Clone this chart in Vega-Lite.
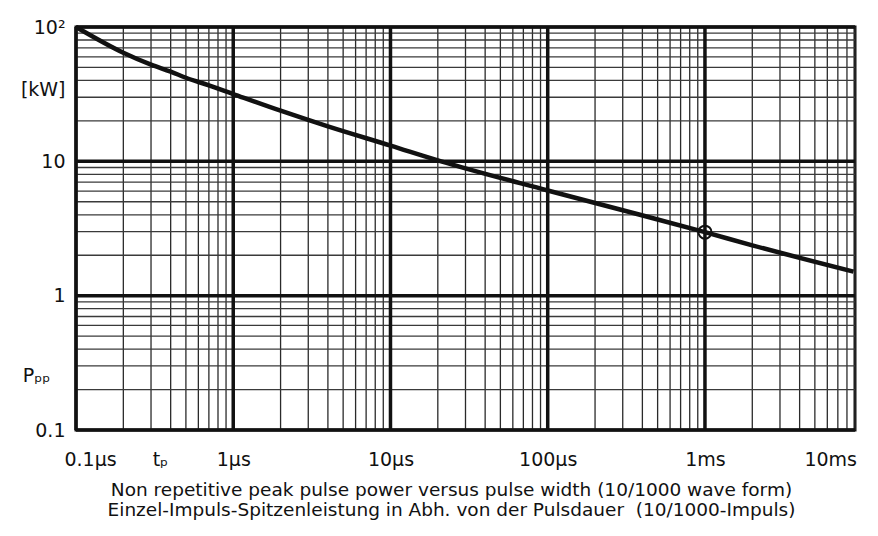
{
  "$schema": "https://vega.github.io/schema/vega-lite/v6.json",
  "width": 779,
  "height": 403,
  "autosize": "none",
  "padding": {"left": 76, "top": 27, "right": 23, "bottom": 106},
  "background": "white",
  "config": {"font": "DejaVu Sans", "view": {"stroke": "#111111", "strokeWidth": 3}},
  "datasets": {
    "curve": [
      {"t": 1e-7, "p": 100},
      {"t": 2e-7, "p": 64.3},
      {"t": 3e-7, "p": 52.4},
      {"t": 4e-7, "p": 46.5},
      {"t": 5e-7, "p": 41.9},
      {"t": 7e-7, "p": 36.8},
      {"t": 1e-6, "p": 31.7},
      {"t": 2e-6, "p": 23.8},
      {"t": 4e-6, "p": 18.2},
      {"t": 1e-5, "p": 13.1},
      {"t": 2.1e-5, "p": 10},
      {"t": 1e-4, "p": 6.07},
      {"t": 3.86e-4, "p": 4.0},
      {"t": 1e-3, "p": 2.97},
      {"t": 2e-3, "p": 2.37},
      {"t": 8.8e-3, "p": 1.51}
    ],
    "marker": [{"t": 1e-3, "p": 2.97}],
    "xgrid": [
      {"t": 1e-7, "major": true}, {"t": 2e-7, "major": false}, {"t": 3e-7, "major": false}, {"t": 4e-7, "major": false}, {"t": 5e-7, "major": false}, {"t": 6e-7, "major": false}, {"t": 7e-7, "major": false}, {"t": 8e-7, "major": false}, {"t": 9e-7, "major": false},
      {"t": 1e-6, "major": true}, {"t": 2e-6, "major": false}, {"t": 3e-6, "major": false}, {"t": 4e-6, "major": false}, {"t": 5e-6, "major": false}, {"t": 6e-6, "major": false}, {"t": 7e-6, "major": false}, {"t": 8e-6, "major": false}, {"t": 9e-6, "major": false},
      {"t": 1e-5, "major": true}, {"t": 2e-5, "major": false}, {"t": 3e-5, "major": false}, {"t": 4e-5, "major": false}, {"t": 5e-5, "major": false}, {"t": 6e-5, "major": false}, {"t": 7e-5, "major": false}, {"t": 8e-5, "major": false}, {"t": 9e-5, "major": false},
      {"t": 1e-4, "major": true}, {"t": 2e-4, "major": false}, {"t": 3e-4, "major": false}, {"t": 4e-4, "major": false}, {"t": 5e-4, "major": false}, {"t": 6e-4, "major": false}, {"t": 7e-4, "major": false}, {"t": 8e-4, "major": false}, {"t": 9e-4, "major": false},
      {"t": 1e-3, "major": true}, {"t": 2e-3, "major": false}, {"t": 3e-3, "major": false}, {"t": 4e-3, "major": false}, {"t": 5e-3, "major": false}, {"t": 6e-3, "major": false}, {"t": 7e-3, "major": false}, {"t": 8e-3, "major": false}, {"t": 9e-3, "major": false}
    ],
    "ygrid": [
      {"p": 0.1, "major": true}, {"p": 0.2, "major": false}, {"p": 0.3, "major": false}, {"p": 0.4, "major": false}, {"p": 0.5, "major": false}, {"p": 0.6, "major": false}, {"p": 0.7, "major": false}, {"p": 0.8, "major": false}, {"p": 0.9, "major": false},
      {"p": 1, "major": true}, {"p": 2, "major": false}, {"p": 3, "major": false}, {"p": 4, "major": false}, {"p": 5, "major": false}, {"p": 6, "major": false}, {"p": 7, "major": false}, {"p": 8, "major": false}, {"p": 9, "major": false},
      {"p": 10, "major": true}, {"p": 20, "major": false}, {"p": 30, "major": false}, {"p": 40, "major": false}, {"p": 50, "major": false}, {"p": 60, "major": false}, {"p": 70, "major": false}, {"p": 80, "major": false}, {"p": 90, "major": false},
      {"p": 100, "major": true}
    ]
  },
  "layer": [
    {
      "data": {"name": "xgrid"},
      "transform": [{"filter": "!datum.major"}],
      "mark": {"type": "rule", "stroke": "#2a2a2a", "strokeWidth": 1.3},
      "encoding": {"x": {"field": "t", "type": "quantitative", "scale": {"type": "log", "domain": [1e-7, 0.009], "nice": false}}}
    },
    {
      "data": {"name": "ygrid"},
      "transform": [{"filter": "!datum.major"}],
      "mark": {"type": "rule", "stroke": "#3a3a3a", "strokeWidth": 1.3},
      "encoding": {"y": {"field": "p", "type": "quantitative", "scale": {"type": "log", "domain": [0.1, 100], "nice": false}}}
    },
    {
      "data": {"name": "xgrid"},
      "transform": [{"filter": "datum.major"}],
      "mark": {"type": "rule", "stroke": "#111111", "strokeWidth": 3.5},
      "encoding": {"x": {"field": "t", "type": "quantitative", "scale": {"type": "log", "domain": [1e-7, 0.009], "nice": false}}}
    },
    {
      "data": {"name": "ygrid"},
      "transform": [{"filter": "datum.major"}],
      "mark": {"type": "rule", "stroke": "#111111", "strokeWidth": 3.5},
      "encoding": {"y": {"field": "p", "type": "quantitative", "scale": {"type": "log", "domain": [0.1, 100], "nice": false}}}
    },
    {
      "data": {"name": "curve"},
      "mark": {"type": "line", "stroke": "#111111", "strokeWidth": 4.5, "interpolate": "monotone", "strokeCap": "butt"},
      "encoding": {
        "x": {
          "field": "t", "type": "quantitative",
          "scale": {"type": "log", "domain": [1e-7, 0.009], "nice": false},
          "axis": {
            "values": [1.228e-7, 3.42e-7, 1e-6, 1e-5, 1e-4, 1e-3, 6.26e-3],
            "labelExpr": "datum.value < 2e-7 ? '0.1µs' : datum.value < 5e-7 ? 'tₚ' : datum.value < 5e-6 ? '1µs' : datum.value < 5e-5 ? '10µs' : datum.value < 5e-4 ? '100µs' : datum.value < 5e-3 ? '1ms' : '10ms'",
            "grid": false, "ticks": false, "domain": false,
            "labelFlush": false, "labelOverlap": false, "labelBound": false,
            "labelFontSize": 19, "labelColor": "#111111", "labelPadding": 20,
            "title": ["Non repetitive peak pulse power versus pulse width (10/1000 wave form)", "Einzel-Impuls-Spitzenleistung in Abh. von der Pulsdauer \u00a0(10/1000-Impuls)"],
            "titleFontSize": 18.5, "titleFontWeight": "normal", "titleColor": "#111111", "titlePadding": 11, "titleLineHeight": 20,
            "titleX": 375
          }
        },
        "y": {
          "field": "p", "type": "quantitative",
          "scale": {"type": "log", "domain": [0.1, 100], "nice": false},
          "axis": {
            "values": [0.1, 0.256, 1, 10, 34, 100],
            "labelExpr": "datum.value < 0.15 ? '0.1' : datum.value < 0.5 ? 'Pₚₚ' : datum.value < 5 ? '1' : datum.value < 20 ? '10' : datum.value < 60 ? '[kW]' : '10²'",
            "grid": false, "ticks": false, "domain": false,
            "labelOverlap": false, "labelBound": false, "labelFlush": false,
            "labelFontSize": 19, "labelColor": "#111111",
            "labelPadding": {"condition": {"test": "datum.value > 0.2 && datum.value < 0.5", "value": 26}, "value": 11},
            "title": null
          }
        }
      }
    },
    {
      "data": {"name": "marker"},
      "mark": {"type": "point", "shape": "circle", "filled": false, "stroke": "#111111", "strokeWidth": 2, "size": 170, "opacity": 1},
      "encoding": {
        "x": {"field": "t", "type": "quantitative", "scale": {"type": "log", "domain": [1e-7, 0.009], "nice": false}},
        "y": {"field": "p", "type": "quantitative", "scale": {"type": "log", "domain": [0.1, 100], "nice": false}}
      }
    }
  ]
}
